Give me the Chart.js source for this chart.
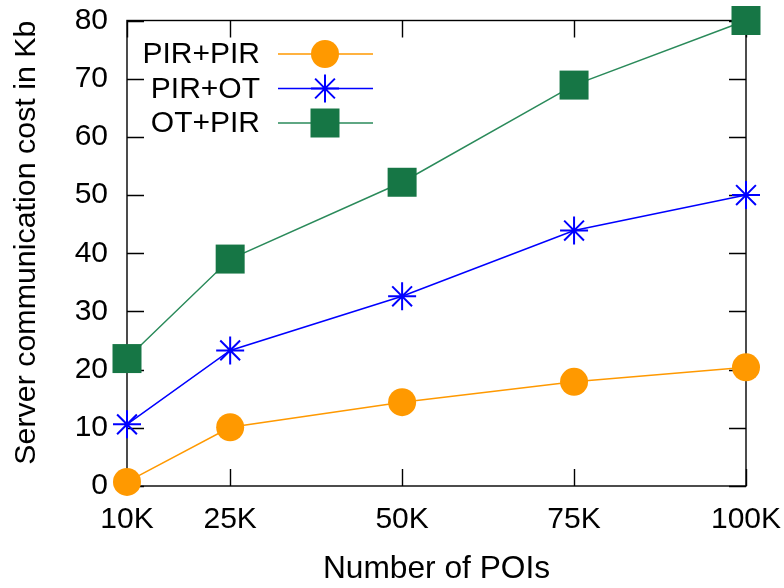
<!DOCTYPE html>
<html>
<head>
<meta charset="utf-8">
<script src="https://cdn.jsdelivr.net/npm/chart.js@4"></script>
<style>
  html, body { margin: 0; padding: 0; background: #fff; }
</style>
</head>
<body>
<canvas id="myChart" width="784" height="588"></canvas>
<script>
// values
const poiCounts = [10, 25, 50, 75, 100];
const xTickLabels = ["10K", "25K", "50K", "75K", "100K"];
const yTicks = [0, 10, 20, 30, 40, 50, 60, 70, 80];
const pirPir = [0.7, 10.1, 14.4, 17.9, 20.4];
const pirOt = [10.6, 23.3, 32.6, 43.9, 50];
const otPir = [21.9, 39, 52.2, 68.9, 80];

const FONT = "'Liberation Sans', Arial, sans-serif";
const orange = "#ff9900";
const blue = "#0000ff";
const green = "#167645";

function toPoints(values) {
  return poiCounts.map((x, i) => ({ x: x, y: values[i] }));
}

// drop the label overhang padding so the plot box sits where the layout says
function noOverhang(scale) {
  scale.paddingLeft = 0;
  scale.paddingRight = 0;
  scale.paddingTop = 0;
  scale.paddingBottom = 0;
}

// box around the plot with inward ticks on all four sides
const frameTicks = {
  id: "frameTicks",
  beforeDatasetsDraw(chart) {
    const { ctx, chartArea: a, scales } = chart;
    const len = 17;
    ctx.save();
    ctx.strokeStyle = "#000";
    ctx.lineWidth = 1.4;
    ctx.beginPath();
    poiCounts.forEach((v) => {
      const px = Math.round(scales.x.getPixelForValue(v)) + 0.5;
      ctx.moveTo(px, a.bottom); ctx.lineTo(px, a.bottom - len);
      ctx.moveTo(px, a.top); ctx.lineTo(px, a.top + len);
    });
    yTicks.forEach((v) => {
      const py = Math.round(scales.y.getPixelForValue(v)) + 0.5;
      ctx.moveTo(a.left, py); ctx.lineTo(a.left + len, py);
      ctx.moveTo(a.right, py); ctx.lineTo(a.right - len, py);
    });
    ctx.stroke();
    ctx.strokeRect(a.left, a.top, a.right - a.left, a.bottom - a.top);
    ctx.restore();
  }
};

// gnuplot style key: label on the left, line sample with marker on the right
const keyBox = {
  id: "keyBox",
  afterDatasetsDraw(chart) {
    const ctx = chart.ctx;
    const rows = [54, 88.5, 123];
    ctx.save();
    chart.data.datasets.forEach((ds, i) => {
      const y = rows[i];
      ctx.fillStyle = "#000";
      ctx.font = "30px " + FONT;
      ctx.textAlign = "right";
      ctx.textBaseline = "middle";
      ctx.fillText(ds.label, 260, y + 1);

      ctx.strokeStyle = ds.borderColor;
      ctx.lineWidth = 1.5;
      ctx.beginPath();
      ctx.moveTo(278, y); ctx.lineTo(373, y);
      ctx.stroke();

      const cx = 325;
      ctx.fillStyle = ds.pointBackgroundColor;
      ctx.strokeStyle = ds.pointBorderColor;
      if (ds.pointStyle === "circle") {
        ctx.beginPath();
        ctx.arc(cx, y, ds.pointRadius, 0, Math.PI * 2);
        ctx.fill();
      } else if (ds.pointStyle === "rect") {
        const s = ds.pointRadius * Math.SQRT1_2;
        ctx.fillRect(cx - s, y - s, 2 * s, 2 * s);
      } else {
        const r = ds.pointRadius;
        const d = r * Math.SQRT1_2;
        ctx.lineWidth = ds.pointBorderWidth;
        ctx.beginPath();
        ctx.moveTo(cx - r, y); ctx.lineTo(cx + r, y);
        ctx.moveTo(cx, y - r); ctx.lineTo(cx, y + r);
        ctx.moveTo(cx - d, y - d); ctx.lineTo(cx + d, y + d);
        ctx.moveTo(cx - d, y + d); ctx.lineTo(cx + d, y - d);
        ctx.stroke();
      }
    });
    ctx.restore();
  }
};

const chart = new Chart(document.getElementById("myChart"), {
  type: "line",
  data: {
    datasets: [
      {
        label: "PIR+PIR",
        data: toPoints(pirPir),
        borderColor: orange,
        borderWidth: 1.5,
        pointStyle: "circle",
        pointRadius: 14,
        pointBackgroundColor: orange,
        pointBorderColor: orange,
        pointBorderWidth: 0,
        clip: false
      },
      {
        label: "PIR+OT",
        data: toPoints(pirOt),
        borderColor: blue,
        borderWidth: 1.5,
        pointStyle: "star",
        pointRadius: 14,
        pointBackgroundColor: blue,
        pointBorderColor: blue,
        pointBorderWidth: 2,
        clip: false
      },
      {
        label: "OT+PIR",
        data: toPoints(otPir),
        borderColor: "#2a8a5a",
        borderWidth: 1.5,
        pointStyle: "rect",
        pointRadius: 20.5,
        pointBackgroundColor: green,
        pointBorderColor: green,
        pointBorderWidth: 0,
        clip: false
      }
    ]
  },
  options: {
    responsive: false,
    animation: false,
    layout: { padding: { top: 20, right: 38, left: 0, bottom: 0 } },
    plugins: {
      legend: { display: false },
      tooltip: { enabled: false }
    },
    scales: {
      x: {
        type: "linear",
        min: 10,
        max: 100,
        afterBuildTicks: (scale) => {
          scale.ticks = poiCounts.map((v) => ({ value: v }));
        },
        afterFit: (scale) => { scale.height = 102; noOverhang(scale); },
        grid: { display: false, drawTicks: false },
        border: { display: false },
        ticks: {
          padding: 16,
          color: "#000",
          font: { family: FONT, size: 30 },
          maxRotation: 0,
          callback: (v) => xTickLabels[poiCounts.indexOf(v)]
        },
        title: {
          display: true,
          text: "Number of POIs",
          color: "#000",
          font: { family: FONT, size: 31.7, lineHeight: 1.2 },
          padding: { top: 0, bottom: 0 }
        }
      },
      y: {
        min: 0,
        max: 80,
        afterBuildTicks: (scale) => {
          scale.ticks = yTicks.map((v) => ({ value: v }));
        },
        afterFit: (scale) => { scale.width = 127; noOverhang(scale); },
        grid: { display: false, drawTicks: false },
        border: { display: false },
        ticks: {
          padding: 19,
          color: "#000",
          font: { family: FONT, size: 30 }
        },
        title: {
          display: true,
          text: "Server communication cost in Kb",
          align: "end",
          color: "#000",
          font: { family: FONT, size: 30.4, lineHeight: 1.2 },
          padding: { top: 8, bottom: 0 }
        }
      }
    }
  },
  plugins: [frameTicks, keyBox]
});
</script>
</body>
</html>
